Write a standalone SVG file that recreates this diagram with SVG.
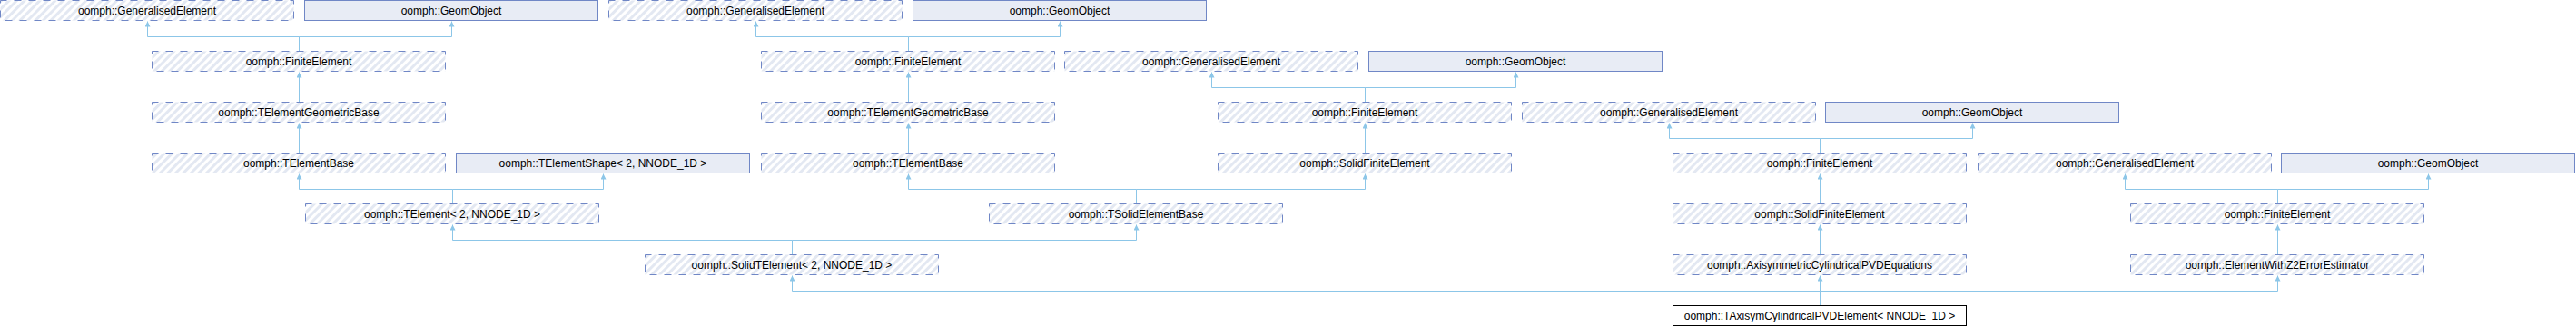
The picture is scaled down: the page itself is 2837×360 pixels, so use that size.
<svg xmlns="http://www.w3.org/2000/svg" width="2837" height="360" viewBox="0 0 2837 360">
<defs>
<pattern id="hatch" patternUnits="userSpaceOnUse" width="6" height="6" patternTransform="rotate(45)">
<rect x="0" y="0" width="6" height="6" fill="#ffffff"/>
<rect x="0" y="0" width="3" height="6" fill="#e3e8f2"/>
</pattern>
<marker id="arr" viewBox="0 0 10 10" refX="10" refY="5" markerUnits="userSpaceOnUse" markerWidth="6" markerHeight="6" orient="auto">
<path d="M0,0 L10,5 L0,10 z" fill="#8cc6e8"/>
</marker>
<style>
.d rect{fill:url(#hatch);stroke:#7087c6;stroke-width:1;stroke-dasharray:8,8;stroke-dashoffset:1}
.s rect{fill:#e8ecf5;stroke:#7087c6;stroke-width:1}
.f rect{fill:#ffffff;stroke:#000000;stroke-width:1}
text{font-family:"Liberation Sans",Arial,sans-serif;font-size:12px;fill:#000000;text-anchor:middle}
#edges path{fill:none;stroke:#8cc6e8;stroke-width:1;marker-end:url(#arr)}
</style>
</defs>
<rect width="2837" height="360" fill="#ffffff"/>
<g id="edges">
<path d="M329.5,56 V40.5 H162.5 V23.5"/>
<path d="M329.5,56 V40.5 H497.5 V23.5"/>
<path d="M329.5,112 V79.5"/>
<path d="M329.5,168 V135.5"/>
<path d="M498.5,224 V208.5 H329.5 V191.5"/>
<path d="M498.5,224 V208.5 H664.5 V191.5"/>
<path d="M1000.5,56 V40.5 H832.5 V23.5"/>
<path d="M1000.5,56 V40.5 H1167.5 V23.5"/>
<path d="M1000.5,112 V79.5"/>
<path d="M1000.5,168 V135.5"/>
<path d="M1251.5,224 V208.5 H1000.5 V191.5"/>
<path d="M1251.5,224 V208.5 H1503.5 V191.5"/>
<path d="M1503.5,112 V96.5 H1334.5 V79.5"/>
<path d="M1503.5,112 V96.5 H1669.5 V79.5"/>
<path d="M1503.5,168 V135.5"/>
<path d="M872.5,280 V264.5 H498.5 V247.5"/>
<path d="M872.5,280 V264.5 H1251.5 V247.5"/>
<path d="M2004.5,168 V152.5 H1838.5 V135.5"/>
<path d="M2004.5,168 V152.5 H2172.5 V135.5"/>
<path d="M2004.5,224 V191.5"/>
<path d="M2508.5,224 V208.5 H2340.5 V191.5"/>
<path d="M2508.5,224 V208.5 H2674.5 V191.5"/>
<path d="M2004.5,280 V247.5"/>
<path d="M2508.5,280 V247.5"/>
<path d="M2004.5,336 V320.5 H872.5 V303.5"/>
<path d="M2004.5,336 V303.5"/>
<path d="M2004.5,336 V320.5 H2508.5 V303.5"/>
</g>
<g id="n_ge1" class="d"><rect x="0.5" y="0.5" width="323" height="22"/><text x="162" y="16">oomph::GeneralisedElement</text></g>
<g id="n_go1" class="s"><rect x="335.5" y="0.5" width="323" height="22"/><text x="497" y="16">oomph::GeomObject</text></g>
<g id="n_ge2" class="d"><rect x="670.5" y="0.5" width="323" height="22"/><text x="832" y="16">oomph::GeneralisedElement</text></g>
<g id="n_go2" class="s"><rect x="1005.5" y="0.5" width="323" height="22"/><text x="1167" y="16">oomph::GeomObject</text></g>
<g id="n_fe1" class="d"><rect x="167.5" y="56.5" width="323" height="22"/><text x="329" y="72">oomph::FiniteElement</text></g>
<g id="n_fe2" class="d"><rect x="838.5" y="56.5" width="323" height="22"/><text x="1000" y="72">oomph::FiniteElement</text></g>
<g id="n_ge3" class="d"><rect x="1172.5" y="56.5" width="323" height="22"/><text x="1334" y="72">oomph::GeneralisedElement</text></g>
<g id="n_go3" class="s"><rect x="1507.5" y="56.5" width="323" height="22"/><text x="1669" y="72">oomph::GeomObject</text></g>
<g id="n_tegb1" class="d"><rect x="167.5" y="112.5" width="323" height="22"/><text x="329" y="128">oomph::TElementGeometricBase</text></g>
<g id="n_tegb2" class="d"><rect x="838.5" y="112.5" width="323" height="22"/><text x="1000" y="128">oomph::TElementGeometricBase</text></g>
<g id="n_fe3" class="d"><rect x="1341.5" y="112.5" width="323" height="22"/><text x="1503" y="128">oomph::FiniteElement</text></g>
<g id="n_ge4" class="d"><rect x="1676.5" y="112.5" width="323" height="22"/><text x="1838" y="128">oomph::GeneralisedElement</text></g>
<g id="n_go4" class="s"><rect x="2010.5" y="112.5" width="323" height="22"/><text x="2172" y="128">oomph::GeomObject</text></g>
<g id="n_teb1" class="d"><rect x="167.5" y="168.5" width="323" height="22"/><text x="329" y="184">oomph::TElementBase</text></g>
<g id="n_tes" class="s"><rect x="502.5" y="168.5" width="323" height="22"/><text x="664" y="184">oomph::TElementShape&lt; 2, NNODE_1D &gt;</text></g>
<g id="n_teb2" class="d"><rect x="838.5" y="168.5" width="323" height="22"/><text x="1000" y="184">oomph::TElementBase</text></g>
<g id="n_sfe1" class="d"><rect x="1341.5" y="168.5" width="323" height="22"/><text x="1503" y="184">oomph::SolidFiniteElement</text></g>
<g id="n_fe4" class="d"><rect x="1842.5" y="168.5" width="323" height="22"/><text x="2004" y="184">oomph::FiniteElement</text></g>
<g id="n_ge5" class="d"><rect x="2178.5" y="168.5" width="323" height="22"/><text x="2340" y="184">oomph::GeneralisedElement</text></g>
<g id="n_go5" class="s"><rect x="2512.5" y="168.5" width="323" height="22"/><text x="2674" y="184">oomph::GeomObject</text></g>
<g id="n_tel" class="d"><rect x="336.5" y="224.5" width="323" height="22"/><text x="498" y="240">oomph::TElement&lt; 2, NNODE_1D &gt;</text></g>
<g id="n_tseb" class="d"><rect x="1089.5" y="224.5" width="323" height="22"/><text x="1251" y="240">oomph::TSolidElementBase</text></g>
<g id="n_sfe2" class="d"><rect x="1842.5" y="224.5" width="323" height="22"/><text x="2004" y="240">oomph::SolidFiniteElement</text></g>
<g id="n_fe5" class="d"><rect x="2346.5" y="224.5" width="323" height="22"/><text x="2508" y="240">oomph::FiniteElement</text></g>
<g id="n_ste" class="d"><rect x="710.5" y="280.5" width="323" height="22"/><text x="872" y="296">oomph::SolidTElement&lt; 2, NNODE_1D &gt;</text></g>
<g id="n_apvd" class="d"><rect x="1842.5" y="280.5" width="323" height="22"/><text x="2004" y="296">oomph::AxisymmetricCylindricalPVDEquations</text></g>
<g id="n_ewz2" class="d"><rect x="2346.5" y="280.5" width="323" height="22"/><text x="2508" y="296">oomph::ElementWithZ2ErrorEstimator</text></g>
<g id="n_final" class="f"><rect x="1842.5" y="336.5" width="323" height="22"/><text x="2004" y="352">oomph::TAxisymCylindricalPVDElement&lt; NNODE_1D &gt;</text></g>
</svg>
